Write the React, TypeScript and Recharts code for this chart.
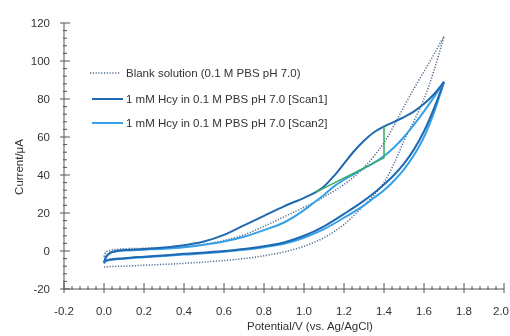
import React from 'react';
import { LineChart, Line, XAxis, YAxis, Legend } from 'recharts';

// potentials (V) for the anodic (forward) and cathodic (reverse) sweeps
const forwardPotential = [0, 0.01, 0.03, 0.06, 0.1, 0.2, 0.3, 0.4, 0.5, 0.6, 0.7, 0.8, 0.9, 1.0, 1.05, 1.1, 1.15, 1.2, 1.25, 1.3, 1.35, 1.4, 1.45, 1.5, 1.55, 1.6, 1.65, 1.7];
const reversePotential = [0, 0.01, 0.03, 0.1, 0.2, 0.4, 0.6, 0.7, 0.8, 0.9, 1.0, 1.1, 1.2, 1.3, 1.35, 1.4, 1.45, 1.5, 1.55, 1.6, 1.65, 1.7];

// currents (uA)
const blankForward = [-3, -0.5, 0.3, 0.8, 1.2, 1.4, 1.6, 2.2, 3.5, 5.5, 8.5, 13, 18, 23, 25.5, 28.5, 31.5, 35, 39, 44, 50, 57, 66, 76, 85.5, 94.5, 103.5, 113];
const blankReverse = [-8.5, -8.3, -8.2, -8, -7.5, -6.5, -5, -4, -2.5, -0.5, 2.5, 7, 14, 24, 29.5, 36, 46, 58, 68.5, 80, 95, 113];
const scan1Forward = [-6, -3, -1, 0, 0.5, 1, 1.8, 3, 5, 8.5, 13.5, 18.5, 23.5, 28, 30.5, 34, 39.5, 46, 52.5, 58, 62.5, 65.5, 68, 70.5, 73.5, 77.5, 82.5, 89];
const scan1Reverse = [-6, -5, -4.5, -3.8, -3, -1.5, 0, 1, 2.5, 4.5, 8, 13, 19.5, 26.5, 30.5, 35, 40, 46, 53.5, 63, 75, 89];
const scan2Forward = [-6.5, -3.5, -1.2, -0.3, 0.2, 0.7, 1.2, 2, 3.3, 5, 7.5, 11, 15, 21.5, 25.5, 29.5, 34, 37.5, 40.5, 43.5, 46.5, 50, 54.5, 60, 66.5, 73.5, 81, 89];
const scan2Reverse = [-6.5, -5.3, -4.8, -4.1, -3.3, -1.9, -0.4, 0.6, 2, 3.8, 7, 11.5, 17.5, 24, 28, 32, 37, 43, 50.5, 60, 73, 89];

// peak current construction (baseline + vertical drop)
const peakPotential = [1.06, 1.4, 1.4];
const peakCurrent = [31, 49, 66];

const seriesNames = [
  'Blank solution (0.1 M PBS pH 7.0)',
  '1 mM Hcy in 0.1 M PBS pH 7.0 [Scan1]',
  '1 mM Hcy in 0.1 M PBS pH 7.0 [Scan2]',
];

const xMajorTicks = [-0.2, 0, 0.2, 0.4, 0.6, 0.8, 1.0, 1.2, 1.4, 1.6, 1.8, 2.0];
const yMajorTicks = [-20, 0, 20, 40, 60, 80, 100, 120];

const xTicks: number[] = [];
for (let k = -5; k <= 50; k++) xTicks.push(Math.round(k * 4) / 100);
const yTicks: number[] = [];
for (let v = -20; v <= 120; v += 4) yTicks.push(v);

const pts = (e: number[], i: number[]) => e.map((v, k) => ({ e: v, i: i[k] }));

const FONT = '"Liberation Sans", Arial, sans-serif';
const AXIS = '#555';
const TEXT = '#333';
const BLANK = '#4f6b8d';
const SCAN1 = '#1f69b1';
const SCAN2 = '#35a0e8';
const GREEN = '#35ad5b';

const isMajorX = (v: number) => xMajorTicks.some((m) => Math.abs(m - v) < 1e-6);

const XTick = (props: any) => {
  const { x, y, payload } = props;
  const major = isMajorX(payload.value);
  const last = Math.abs(payload.value - 2) < 1e-6;
  return (
    <g>
      <line x1={x} x2={x} y1={y - (major ? 6 : 3)} y2={y + (major ? 4 : 1)} stroke={AXIS} />
      {major && (
        <text
          x={last ? x + 5 : x}
          y={y + 22}
          textAnchor={last ? 'end' : 'middle'}
          dominantBaseline="central"
          fill={TEXT}
          fontSize={11.5}
          fontFamily={FONT}
        >
          {payload.value.toFixed(1)}
        </text>
      )}
    </g>
  );
};

const YTick = (props: any) => {
  const { x, y, payload } = props;
  const major = yMajorTicks.includes(payload.value);
  return (
    <g>
      <line x1={x - (major ? 4 : 1)} x2={x + (major ? 6 : 3)} y1={y} y2={y} stroke={AXIS} />
      {major && (
        <text x={x - 14} y={y} textAnchor="end" dominantBaseline="central" fill={TEXT} fontSize={11.5} fontFamily={FONT}>
          {String(payload.value)}
        </text>
      )}
    </g>
  );
};

const legendStyles = [
  { color: BLANK, dash: '1.2 1.6', x1: 2, x2: 32, width: 1.5 },
  { color: SCAN1, dash: undefined, x1: 4, x2: 35, width: 2 },
  { color: SCAN2, dash: undefined, x1: 4, x2: 35, width: 2 },
];
const legendRowCenters = [8, 34, 58];

const renderLegend = () => (
  <div style={{ position: 'relative', width: 260, height: 70, fontFamily: FONT, fontSize: 11.5, color: TEXT }}>
    {seriesNames.map((name, k) => (
      <div
        key={name}
        style={{ position: 'absolute', left: 0, top: legendRowCenters[k] - 8, height: 16, display: 'flex', alignItems: 'center', whiteSpace: 'nowrap' }}
      >
        <svg width={38} height={6} style={{ display: 'block' }}>
          <line
            x1={legendStyles[k].x1}
            x2={legendStyles[k].x2}
            y1={3}
            y2={3}
            stroke={legendStyles[k].color}
            strokeWidth={legendStyles[k].width}
            strokeDasharray={legendStyles[k].dash}
          />
        </svg>
        <span>{name}</span>
      </div>
    ))}
  </div>
);

export default function App() {
  return (
    <div style={{ position: 'fixed', left: 0, top: 0, width: 510, height: 336 }}>
      <LineChart width={510} height={336} margin={{ top: 23, right: 6, bottom: 17, left: 24 }}>
        <XAxis
          type="number"
          dataKey="e"
          domain={[-0.2, 2.0]}
          ticks={xTicks}
          interval={0}
          tick={<XTick />}
          tickLine={false}
          tickSize={0}
          tickMargin={0}
          height={30}
          axisLine={{ stroke: AXIS }}
          label={{
            content: () => (
              <text x={310} y={326} textAnchor="middle" dominantBaseline="central" fill={TEXT} fontSize={11.5} fontFamily={FONT}>
                Potential/V (vs. Ag/AgCl)
              </text>
            ),
          }}
        />
        <YAxis
          type="number"
          domain={[-20, 120]}
          ticks={yTicks}
          interval={0}
          tick={<YTick />}
          tickLine={false}
          tickSize={0}
          tickMargin={0}
          width={40}
          axisLine={{ stroke: AXIS }}
          label={{
            content: () => (
              <text
                x={19}
                y={167}
                transform="rotate(-90 19 167)"
                textAnchor="middle"
                dominantBaseline="central"
                fill={TEXT}
                fontSize={11.5}
                fontFamily={FONT}
              >
                Current/μA
              </text>
            ),
          }}
        />
        <Legend
          layout="vertical"
          align="center"
          verticalAlign="middle"
          content={renderLegend}
          wrapperStyle={{ top: 65, left: 88, width: 260, height: 70 }}
        />
        <Line data={pts(forwardPotential, blankForward)} dataKey="i" type="monotone" stroke={BLANK} strokeWidth={1.5} strokeDasharray="1.2 1.6" dot={false} isAnimationActive={false} />
        <Line data={pts(reversePotential, blankReverse)} dataKey="i" type="monotone" stroke={BLANK} strokeWidth={1.5} strokeDasharray="1.2 1.6" dot={false} isAnimationActive={false} />
        <Line data={pts(reversePotential, scan2Reverse)} dataKey="i" type="monotone" stroke={SCAN2} strokeWidth={2} dot={false} isAnimationActive={false} />
        <Line data={pts(reversePotential, scan1Reverse)} dataKey="i" type="monotone" stroke={SCAN1} strokeWidth={2} dot={false} isAnimationActive={false} />
        <Line data={pts(forwardPotential, scan2Forward)} dataKey="i" type="monotone" stroke={SCAN2} strokeWidth={2} dot={false} isAnimationActive={false} />
        <Line data={pts(forwardPotential, scan1Forward)} dataKey="i" type="monotone" stroke={SCAN1} strokeWidth={2} dot={false} isAnimationActive={false} />
        <Line data={pts(peakPotential, peakCurrent)} dataKey="i" type="linear" stroke={GREEN} strokeWidth={1.5} dot={false} isAnimationActive={false} />
      </LineChart>
    </div>
  );
}
